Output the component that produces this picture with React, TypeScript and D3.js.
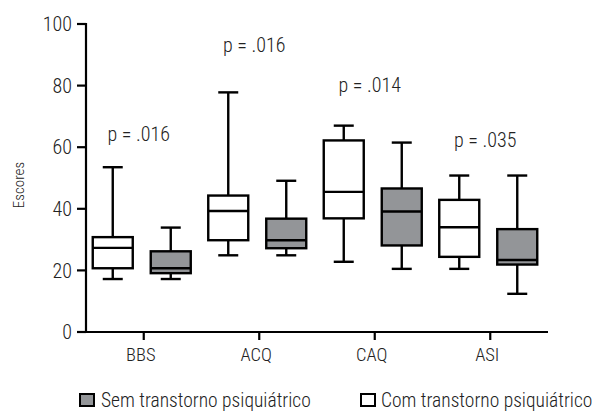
import * as React from "react";
import * as d3 from "d3";

// categories and groups
const categories = ["BBS", "ACQ", "CAQ", "ASI"];
const groups = ["Com transtorno psiquiátrico", "Sem transtorno psiquiátrico"];
const groupFill = ["#ffffff", "#939598"];

// box stats per category: [whiskerLow, q1, median, q3, whiskerHigh]
const comStats = [
  [17.2, 20.7, 27.3, 30.8, 53.5],
  [24.9, 29.8, 39.3, 44.3, 77.8],
  [22.8, 36.9, 45.5, 62.2, 67.0],
  [20.5, 24.4, 34.0, 42.9, 50.8],
];
const semStats = [
  [17.2, 19.1, 20.7, 26.2, 33.9],
  [24.9, 27.2, 29.8, 36.8, 49.1],
  [20.5, 28.1, 39.1, 46.6, 61.5],
  [12.4, 21.9, 23.4, 33.4, 50.8],
];
const pValues = ["p = .016", "p = .016", "p = .014", "p = .035"];
const pHeights = [62, 91, 78, 60];
const yTicks = [0, 20, 40, 60, 80, 100];

const font = "Roboto, 'Liberation Sans Narrow', sans-serif";

export default function App() {
  const W = 595, H = 416;
  const left = 86, right = 548, top = 24, bottom = 332;

  const x = d3.scaleBand().domain(categories).range([left, right]);
  const y = d3.scaleLinear().domain([0, 100]).range([bottom, top]);
  const boxW = 40;
  const offset = 29;

  const drawBox = (s: number[], cx: number, fill: string, key: string) => {
    const [lo, q1, med, q3, hi] = s;
    const capW = 20;
    return (
      <g key={key} stroke="#000" strokeWidth={2.4} fill="none">
        <line x1={cx} x2={cx} y1={y(hi)} y2={y(q3)} />
        <line x1={cx} x2={cx} y1={y(q1)} y2={y(lo)} />
        <line x1={cx - capW / 2} x2={cx + capW / 2} y1={y(hi)} y2={y(hi)} />
        <line x1={cx - capW / 2} x2={cx + capW / 2} y1={y(lo)} y2={y(lo)} />
        <rect x={cx - boxW / 2} y={y(q3)} width={boxW} height={y(q1) - y(q3)} fill={fill} />
        <line x1={cx - boxW / 2} x2={cx + boxW / 2} y1={y(med)} y2={y(med)} />
      </g>
    );
  };

  return (
    <svg
      width={W}
      height={H}
      style={{ position: "absolute", left: 0, top: 0, fontStretch: "condensed" }}
      fontFamily={font}
      fontWeight={300}
    >
      <rect width={W} height={H} fill="#fff" />
      {/* y axis */}
      <line x1={left} x2={left} y1={top - 1} y2={bottom} stroke="#000" strokeWidth={2.2} />
      {yTicks.map((t) => (
        <g key={t}>
          <line x1={left - 9} x2={left} y1={y(t)} y2={y(t)} stroke="#000" strokeWidth={2.2} />
          <text x={left - 14} y={y(t)} dy="0.36em" textAnchor="end" fontSize={20} fill="#222">
            {t}
          </text>
        </g>
      ))}
      <text
        transform={`translate(24,185) rotate(-90)`}
        textAnchor="middle"
        fontSize={15}
        fill="#222"
      >
        Escores
      </text>
      {/* x axis */}
      <line x1={left - 1} x2={right} y1={bottom} y2={bottom} stroke="#000" strokeWidth={2.2} />
      {categories.map((c, i) => {
        const cx = (x(c) as number) + x.bandwidth() / 2;
        return (
          <g key={c}>
            <line x1={cx} x2={cx} y1={bottom} y2={bottom + 8} stroke="#000" strokeWidth={2.2} />
            <text x={cx - 3} y={361} textAnchor="middle" fontSize={18.5} fill="#222">
              {c}
            </text>
            {drawBox(comStats[i], cx - offset - 2, groupFill[0], c + "com")}
            {drawBox(semStats[i], cx + offset - 2, groupFill[1], c + "sem")}
            <text x={cx - 5} y={y(pHeights[i])} textAnchor="middle" fontSize={20} fill="#222">
              {pValues[i]}
            </text>
          </g>
        );
      })}
      {/* legend */}
      <rect x={80} y={394} width={14} height={12} fill={groupFill[1]} stroke="#000" strokeWidth={2} />
      <text x={101} y={407} fontSize={19.5} fill="#222">{groups[1]}</text>
      <rect x={361} y={394} width={14} height={12} fill={groupFill[0]} stroke="#000" strokeWidth={2} />
      <text x={381} y={407} fontSize={19.5} fill="#222">{groups[0]}</text>
    </svg>
  );
}
